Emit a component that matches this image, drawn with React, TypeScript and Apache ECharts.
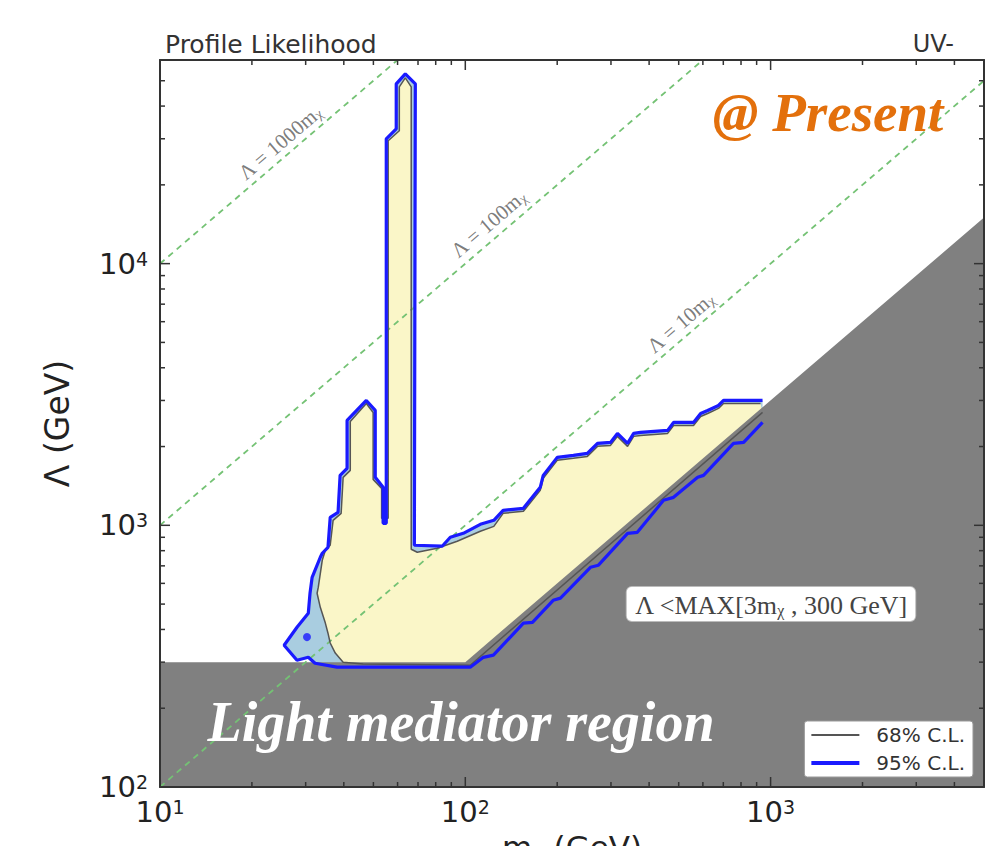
import React, { useEffect, useRef } from "react";
import * as echarts from "echarts";

// ---- axis ranges & ticks ----
const X_MIN = 10;
const X_MAX = 5000;
const Y_MIN = 100;
const Y_MAX = 60000;
const xMajorTicks = [10, 100, 1000];
const xMinorTicks = [20, 30, 40, 50, 60, 70, 80, 90, 200, 300, 400, 500, 600, 700, 800, 900, 2000, 3000, 4000];
const yMajorTicks = [100, 1000, 10000];
const yMinorTicks = [200, 300, 400, 500, 600, 700, 800, 900, 2000, 3000, 4000, 5000, 6000, 7000, 8000, 9000, 20000, 30000, 40000, 50000];

// ---- 95% C.L. contour (m_chi [GeV], Lambda [GeV]) ----
const contour95 = [
  [941, 3000], [701, 3000], [675, 2871], [622, 2748], [590, 2676], [559, 2472], [481, 2472], [460, 2305],
  [375, 2265], [356, 2245], [340, 2056], [315, 2245], [299, 2074], [271, 2056], [251, 1883], [226, 1850],
  [200, 1818], [180, 1552], [176, 1397], [155, 1161], [133, 1141], [124, 1045], [112, 1009], [98.5, 932],
  [89.3, 900], [84.0, 832], [68.1, 839], [68.6, 48640], [63.6, 53120], [59.4, 48640], [59.4, 32760],
  [55.1, 30000], [55.1, 1018], [53.8, 1018], [53.8, 1397], [50.7, 1525], [50.7, 2748], [47.4, 3000],
  [41.0, 2516], [41.0, 1651], [38.9, 1552], [38.3, 1121], [36.1, 1073], [35.5, 824], [34.0, 782],
  [33.5, 755], [31.5, 633], [31.0, 550], [30.6, 461], [28.1, 408], [25.5, 348], [28.1, 305], [30.6, 313],
  [32.2, 297], [38.0, 287], [103.8, 287], [114.6, 313], [123.6, 319], [155, 423], [166, 426], [194, 517],
  [205, 527], [257, 691], [273, 704], [340, 932], [366, 940], [446, 1246], [481, 1279], [577, 1525],
  [603, 1552], [756, 2056], [816, 2074], [941, 2472],
];
const island95 = [[30.3, 374]];

// ---- 68% C.L. contour ----
const contour68 = [
  [927, 2922], [701, 2922], [675, 2797], [622, 2676], [590, 2606], [559, 2408], [481, 2408], [460, 2245],
  [375, 2206], [356, 2187], [340, 2003], [315, 2187], [299, 2020], [271, 2003], [251, 1834], [226, 1803],
  [200, 1771], [180, 1511], [176, 1360], [155, 1131], [133, 1111], [124, 991], [112, 949], [94.1, 869],
  [80.9, 817], [69.6, 789], [66.5, 810], [66.5, 47370], [63.6, 51290], [60.8, 47370], [60.8, 32180],
  [55.9, 29480], [55.9, 1063], [53.2, 1063], [53.2, 1384], [49.9, 1498], [49.9, 2700], [47.4, 2922],
  [42.0, 2494], [42.0, 1622], [39.8, 1525], [39.2, 1111], [36.9, 1045], [36.1, 839], [34.8, 803],
  [34.0, 735], [33.0, 580], [32.7, 550], [33.5, 486], [34.8, 423], [35.5, 387], [36.1, 355], [37.5, 325],
  [39.8, 300], [46.3, 295], [103.8, 292], [941, 2700],
];

// ---- excluded region: Lambda < MAX[3 m_chi, 300 GeV] ----
const lightMediatorRegion = [[10, 300], [100, 300], [5000, 15000], [5000, 100], [10, 100]];

// ---- reference lines Lambda = k * m_chi ----
const guide1000 = [[10, 10000], [60, 60000]];
const guide100 = [[10, 1000], [600, 60000]];
const guide10 = [[10, 100], [5000, 50000]];
const guideLabelTexts = ["Λ = 1000m", "Λ = 100m", "Λ = 10m"];
const guideLabelPos = [[24.7, 29000], [119, 14200], [507, 5950]];

const SANS = "DejaVu Sans";
const SERIF = "Liberation Serif";

function isPow10(v: number) {
  const l = Math.log10(v);
  return Math.abs(l - Math.round(l)) < 1e-6;
}

function polygonSeries(name: string, pts: number[][], fill: string, z: number) {
  return {
    type: "custom",
    name,
    z,
    silent: true,
    clip: true,
    data: [pts[0]],
    renderItem: (_p: any, api: any) => ({
      type: "polygon",
      shape: { points: pts.map((p) => api.coord(p)) },
      style: { fill, stroke: "none" },
    }),
  };
}

function tickSeries(axis: "x" | "y") {
  const majors = axis === "x" ? xMajorTicks : yMajorTicks;
  const all = (axis === "x" ? xMinorTicks : yMinorTicks).concat(majors);
  return {
    type: "custom",
    z: 8,
    silent: true,
    clip: false,
    data: all.map((v) => (axis === "x" ? [v, Y_MIN] : [X_MIN, v])),
    renderItem: (_p: any, api: any) => {
      const v = api.value(axis === "x" ? 0 : 1);
      const len = majors.indexOf(v) >= 0 ? 10 : 5;
      const style = { stroke: "#333", lineWidth: 1.5 };
      if (axis === "x") {
        const b = api.coord([v, Y_MIN]);
        const t = api.coord([v, Y_MAX]);
        return {
          type: "group",
          children: [
            { type: "line", shape: { x1: b[0], y1: b[1], x2: b[0], y2: b[1] - len }, style },
            { type: "line", shape: { x1: t[0], y1: t[1], x2: t[0], y2: t[1] + len }, style },
          ],
        };
      }
      const l = api.coord([X_MIN, v]);
      const r = api.coord([X_MAX, v]);
      return {
        type: "group",
        children: [
          { type: "line", shape: { x1: l[0], y1: l[1], x2: l[0] + len, y2: l[1] }, style },
          { type: "line", shape: { x1: r[0], y1: r[1], x2: r[0] - len, y2: r[1] }, style },
        ],
      };
    },
  };
}

const powLabel = (v: number) => (isPow10(v) ? `{b|10}{s|${Math.round(Math.log10(v))}}` : "");
const powRich = {
  b: { fontFamily: SANS, fontSize: 29, color: "#222" },
  s: { fontFamily: SANS, fontSize: 19, color: "#222", verticalAlign: "top" },
};

function guideLine(name: string, data: number[][]) {
  return {
    type: "line",
    name,
    data,
    z: 4,
    symbol: "none",
    silent: true,
    lineStyle: { color: "#74c274", width: 1.8, type: [6, 5] },
  };
}

export default function App() {
  const ref = useRef<HTMLDivElement>(null);
  useEffect(() => {
    if (!ref.current) return;
    const chart = echarts.init(ref.current, undefined, { renderer: "svg" });
    const frame = { show: true, lineStyle: { color: "#333", width: 2 } };
    chart.setOption({
      animation: false,
      backgroundColor: "#fff",
      grid: { left: 160, right: 1, top: 60, bottom: 59, outerBoundsMode: "none", containLabel: false },
      title: [
        { text: "Profile Likelihood", left: 160, top: 27, textStyle: { fontFamily: SANS, fontSize: 25, fontWeight: "normal", color: "#333" } },
        { text: "UV-", right: 26, top: 27, textStyle: { fontFamily: SANS, fontSize: 24, fontWeight: "normal", color: "#333" } },
      ],
      legend: {
        data: [
          { name: "68% C.L.", icon: "path://M0 0H48V2H0Z" },
          { name: "95% C.L.", icon: "path://M0 0H48V4H0Z" },
        ],
        orient: "vertical",
        right: 12,
        bottom: 69,
        itemWidth: 48,
        itemHeight: 14,
        itemGap: 8,
        padding: [4, 8, 4, 7],
        backgroundColor: "#fff",
        borderColor: "#999",
        borderWidth: 1,
        borderRadius: 3,
        textStyle: { fontFamily: SANS, fontSize: 20, color: "#333", padding: [0, 0, 0, 12] },
        z: 20,
      },
      xAxis: [
        {
          type: "log", logBase: 10, min: X_MIN, max: X_MAX, z: 10,
          axisLine: frame, axisTick: { show: false }, splitLine: { show: false },
          axisLabel: { margin: 10, formatter: powLabel, rich: powRich, showMinLabel: true, showMaxLabel: true },
          name: "{a|m}{c|χ}{a| (GeV)}",
          nameLocation: "middle",
          nameGap: 44,
          nameTextStyle: {
            rich: {
              a: { fontFamily: SANS, fontSize: 31, color: "#222" },
              c: { fontFamily: SANS, fontSize: 20, color: "#222", verticalAlign: "bottom" },
            },
          },
        },
        {
          type: "log", logBase: 10, min: X_MIN, max: X_MAX, position: "top", z: 10,
          axisLine: frame, axisTick: { show: false }, axisLabel: { show: false }, splitLine: { show: false },
        },
      ],
      yAxis: [
        {
          type: "log", logBase: 10, min: Y_MIN, max: Y_MAX, z: 10,
          axisLine: frame, axisTick: { show: false }, splitLine: { show: false },
          axisLabel: { margin: 12, formatter: powLabel, rich: powRich },
          name: "Λ (GeV)",
          nameLocation: "middle",
          nameGap: 86,
          nameRotate: 90,
          nameTextStyle: { fontFamily: SANS, fontSize: 33, color: "#222" },
        },
        {
          type: "log", logBase: 10, min: Y_MIN, max: Y_MAX, position: "right", z: 10,
          axisLine: frame, axisTick: { show: false }, axisLabel: { show: false }, splitLine: { show: false },
        },
      ],
      graphic: [
        {
          type: "text", x: 828, y: 112, z: 20, silent: true,
          style: {
            text: "@ Present", align: "center", verticalAlign: "middle",
            fontFamily: SERIF, fontSize: 55, fontStyle: "italic", fontWeight: "bold", fill: "#e3700c",
          },
        },
        {
          type: "text", x: 461, y: 722, z: 20, silent: true,
          style: {
            text: "Light mediator region", align: "center", verticalAlign: "middle",
            fontFamily: SERIF, fontSize: 56, fontStyle: "italic", fontWeight: "bold", fill: "#ffffff",
          },
        },
        {
          type: "text", x: 771, y: 604, z: 20, silent: true,
          style: {
            text: "{a|Λ <MAX[3m}{c|χ}{a| , 300 GeV]}",
            align: "center", verticalAlign: "middle",
            backgroundColor: "#fff", borderColor: "#bbb", borderWidth: 1, borderRadius: 5,
            padding: [5, 8, 3, 8],
            rich: {
              a: { fontFamily: SERIF, fontSize: 26, fill: "#444", color: "#444" },
              c: { fontFamily: SERIF, fontSize: 16, fill: "#444", color: "#444", verticalAlign: "bottom" },
            },
          },
        },
      ],
      series: [
        polygonSeries("95% region", contour95, "#a9cde0", 1),
        polygonSeries("68% region", contour68, "#faf6c8", 2),
        polygonSeries("Light mediator region", lightMediatorRegion, "#808080", 3),
        guideLine("Λ = 1000 mχ", guide1000),
        guideLine("Λ = 100 mχ", guide100),
        guideLine("Λ = 10 mχ", guide10),
        {
          type: "line", name: "68% C.L.", data: contour68, z: 5, symbol: "none", silent: true,
          itemStyle: { color: "#555" }, lineStyle: { color: "#555", width: 1.5 },
        },
        {
          type: "line", name: "95% C.L.", data: contour95, z: 6, symbol: "none", silent: true,
          itemStyle: { color: "#1a1aff" }, lineStyle: { color: "#1a1aff", width: 3.2 },
        },
        {
          type: "scatter", name: "95% island", data: island95, z: 6, symbolSize: 8, silent: true,
          itemStyle: { color: "#1a1aff" },
        },
        {
          type: "scatter", name: "guide labels", data: guideLabelPos, z: 7, symbolSize: 0, silent: true,
          label: {
            show: true, position: "inside", rotate: 40.66,
            formatter: (p: any) => `{a|${guideLabelTexts[p.dataIndex]}}{c|χ}`,
            rich: {
              a: { fontFamily: SERIF, fontSize: 21, color: "#5a5a5a" },
              c: { fontFamily: SERIF, fontSize: 14, color: "#5a5a5a", verticalAlign: "bottom" },
            },
          },
        },
        tickSeries("x"),
        tickSeries("y"),
      ],
    });
    return () => chart.dispose();
  }, []);
  return <div ref={ref} style={{ position: "fixed", left: 0, top: 0, width: 985, height: 846 }} />;
}
